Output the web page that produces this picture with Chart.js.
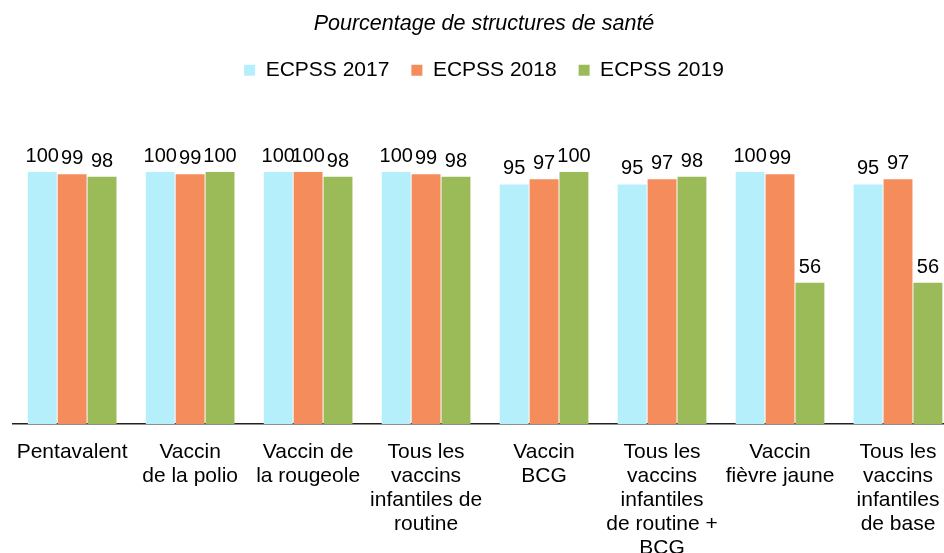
<!DOCTYPE html>
<html lang="fr">
<head>
<meta charset="utf-8">
<title>Pourcentage de structures de santé</title>
<script src="https://cdn.jsdelivr.net/npm/chart.js@4"></script>
<style>
    html, body { margin: 0; padding: 0; background: #fff; overflow: hidden; }
    #wrap { position: relative; width: 970px; height: 576px; }
</style>
</head>
<body>
<div id="wrap"><canvas id="chart"></canvas></div>
<script>
// ===================================
// DATA
// ===================================
const categories = [
    'Pentavalent',
    ['Vaccin', 'de la polio'],
    ['Vaccin de', 'la rougeole'],
    ['Tous les', 'vaccins', 'infantiles de', 'routine'],
    ['Vaccin', 'BCG'],
    ['Tous les', 'vaccins', 'infantiles', 'de routine +', 'BCG'],
    ['Vaccin', 'fièvre jaune'],
    ['Tous les', 'vaccins', 'infantiles', 'de base']
];
const seriesNames = ['ECPSS 2017', 'ECPSS 2018', 'ECPSS 2019'];
const values2017 = [100, 100, 100, 100, 95, 95, 100, 95];
const values2018 = [99, 99, 100, 99, 97, 97, 99, 97];
const values2019 = [98, 100, 98, 98, 100, 98, 56, 56];
const seriesColors = ['#b5effc', '#f58c5b', '#9bbb59'];

const FONT = '"Liberation Sans", Arial, sans-serif';

// value labels above each bar
const valueLabels = {
    id: 'valueLabels',
    afterDatasetsDraw(chart) {
        const ctx = chart.ctx;
        ctx.save();
        ctx.font = '20px ' + FONT;
        ctx.fillStyle = '#000';
        ctx.textAlign = 'center';
        ctx.textBaseline = 'alphabetic';
        chart.data.datasets.forEach((ds, i) => {
            chart.getDatasetMeta(i).data.forEach((bar, j) => {
                ctx.fillText(ds.data[j], bar.x, bar.y - 10);
            });
        });
        ctx.restore();
    }
};

// extra room under the legend
const legendSpacer = {
    id: 'legendSpacer',
    beforeInit(chart) {
        const fit = chart.legend.fit;
        chart.legend.fit = function () {
            fit.call(this);
            this.height += 81;
        };
    }
};

const allValues = [values2017, values2018, values2019];

new Chart(document.getElementById('chart').getContext('2d'), {
    type: 'bar',
    data: {
        labels: categories,
        datasets: seriesNames.map((name, i) => ({
            label: name,
            data: allValues[i],
            backgroundColor: seriesColors[i],
            borderWidth: 0,
            categoryPercentage: 0.76,
            barPercentage: 0.967
        }))
    },
    options: {
        responsive: true,
        maintainAspectRatio: false,
        animation: false,
        layout: { padding: { left: 11, right: 13, top: 11, bottom: 0 } },
        scales: {
            x: {
                grid: { display: false, drawTicks: false },
                border: { display: true, color: '#222', width: 1.5 },
                ticks: {
                    color: '#000',
                    padding: 16,
                    maxRotation: 0,
                    autoSkip: false,
                    font: { family: FONT, size: 21, lineHeight: '24px' }
                }
            },
            y: {
                display: false,
                min: 0,
                max: 100
            }
        },
        plugins: {
            title: {
                display: true,
                text: 'Pourcentage de structures de santé',
                color: '#000',
                font: { family: FONT, size: 21.5, style: 'italic', weight: 'normal' },
                padding: { top: 0, bottom: 1 }
            },
            legend: {
                position: 'top',
                labels: {
                    color: '#000',
                    boxWidth: 11,
                    boxHeight: 11,
                    padding: 22,
                    font: { family: FONT, size: 21 }
                }
            },
            tooltip: { enabled: false }
        }
    },
    plugins: [legendSpacer, valueLabels]
});
</script>
</body>
</html>
